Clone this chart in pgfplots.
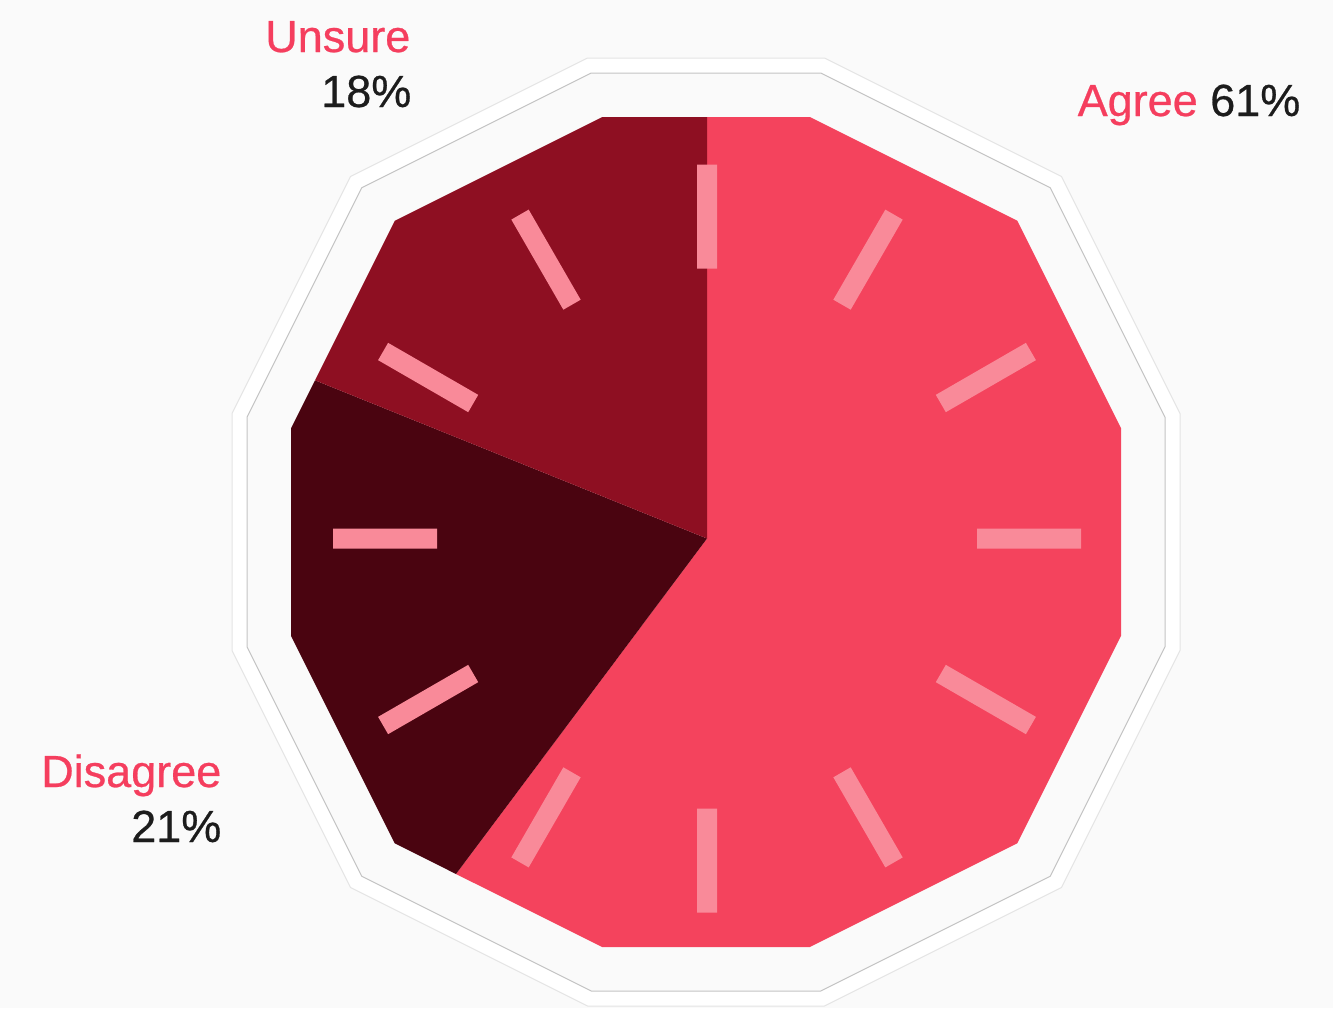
\documentclass[border=0pt]{standalone}
\usepackage{pgfplots}
\pgfplotsset{compat=1.18}
\usepackage{fontspec}
\setmainfont{Liberation Sans}
\newfontfamily\lblfont{Liberation Sans}[FakeBold=0.6]

\definecolor{bg}{HTML}{FAFAFA}
\definecolor{agree}{HTML}{F4435D}
\definecolor{unsure}{HTML}{8E0F22}
\definecolor{disagree}{HTML}{4A0410}
\definecolor{tickpink}{HTML}{F98A99}
\definecolor{labelpink}{HTML}{F53E5E}
\definecolor{labeldark}{HTML}{1C1C1C}
\definecolor{ringline}{HTML}{C4C4C4}

\tikzset{lbl/.style={font=\lblfont\fontsize{12.8}{15.6}\selectfont, inner sep=0pt}}

\begin{document}
\begin{tikzpicture}
\begin{axis}[
    x=0.1mm, y=0.1mm,
    xmin=-706, xmax=627,
    ymin=-476, ymax=532,
    hide axis,
    clip=false,
    unbounded coords=jump,
]
% background
\path[fill=bg] (rel axis cs:0,0) rectangle (rel axis cs:1,1);

% outer ring band
\addplot[fill=white, draw=ringline!45, line width=0.1mm] coordinates {
  (118.5,474) (355.5,355.5) (474,118.5) (474,-118.5) (355.5,-355.5) (118.5,-474)
  (-118.5,-474) (-355.5,-355.5) (-474,-118.5) (-474,118.5) (-355.5,355.5) (-118.5,474)
  (118.5,474)};
\addplot[fill=bg, draw=ringline, line width=0.1mm] coordinates {
  (114.75,459) (344.25,344.25) (459,114.75) (459,-114.75) (344.25,-344.25) (114.75,-459)
  (-114.75,-459) (-344.25,-344.25) (-459,-114.75) (-459,114.75) (-344.25,344.25) (-114.75,459)
  (114.75,459)};

% slices: Agree 61%, Disagree 21%, Unsure 18%
\addplot[fill=agree, draw=none] coordinates {
  (1,-6.5) (1,415) (103.75,415) (311.25,311.25) (415,103.75) (415,-103.75)
  (311.25,-311.25) (103.75,-415) (-103.75,-415) (-250,-342)};
\addplot[fill=disagree, draw=none] coordinates {
  (1,-6.5) (-250,-342) (-311.25,-311.25) (-415,-103.75) (-415,103.75) (-391,151.7)};
\addplot[fill=unsure, draw=none] coordinates {
  (1,-6.5) (-391,151.7) (-311.25,311.25) (-103.75,415) (1,415)};

% clock ticks
\addplot[tickpink, line width=2mm, line cap=butt] coordinates {
  (1,263.5) (1,367.5) (nan,nan)
  (136,227.3) (188,317.4) (nan,nan)
  (234.8,128.5) (324.9,180.5) (nan,nan)
  (271,-6.5) (375,-6.5) (nan,nan)
  (234.8,-141.5) (324.9,-193.5) (nan,nan)
  (136,-240.3) (188,-330.4) (nan,nan)
  (1,-276.5) (1,-380.5) (nan,nan)
  (-134,-240.3) (-186,-330.4) (nan,nan)
  (-232.8,-141.5) (-322.9,-193.5) (nan,nan)
  (-269,-6.5) (-373,-6.5) (nan,nan)
  (-232.8,128.5) (-322.9,180.5) (nan,nan)
  (-134,227.3) (-186,317.4)};

% labels
\node[lbl, anchor=base east, text=labelpink] at (axis cs:-295,480) {Unsure};
\node[lbl, anchor=base east, text=labeldark] at (axis cs:-294,425) {18\%};
\node[lbl, anchor=base west] at (axis cs:371,416) {\textcolor{labelpink}{Agree} \textcolor{labeldark}{61\%}};
\node[lbl, anchor=base east, text=labelpink] at (axis cs:-484,-255) {Disagree};
\node[lbl, anchor=base east, text=labeldark] at (axis cs:-484,-310) {21\%};
\end{axis}
\pgfresetboundingbox
\useasboundingbox (current axis.south west) rectangle (current axis.north east);
\end{tikzpicture}
\end{document}
